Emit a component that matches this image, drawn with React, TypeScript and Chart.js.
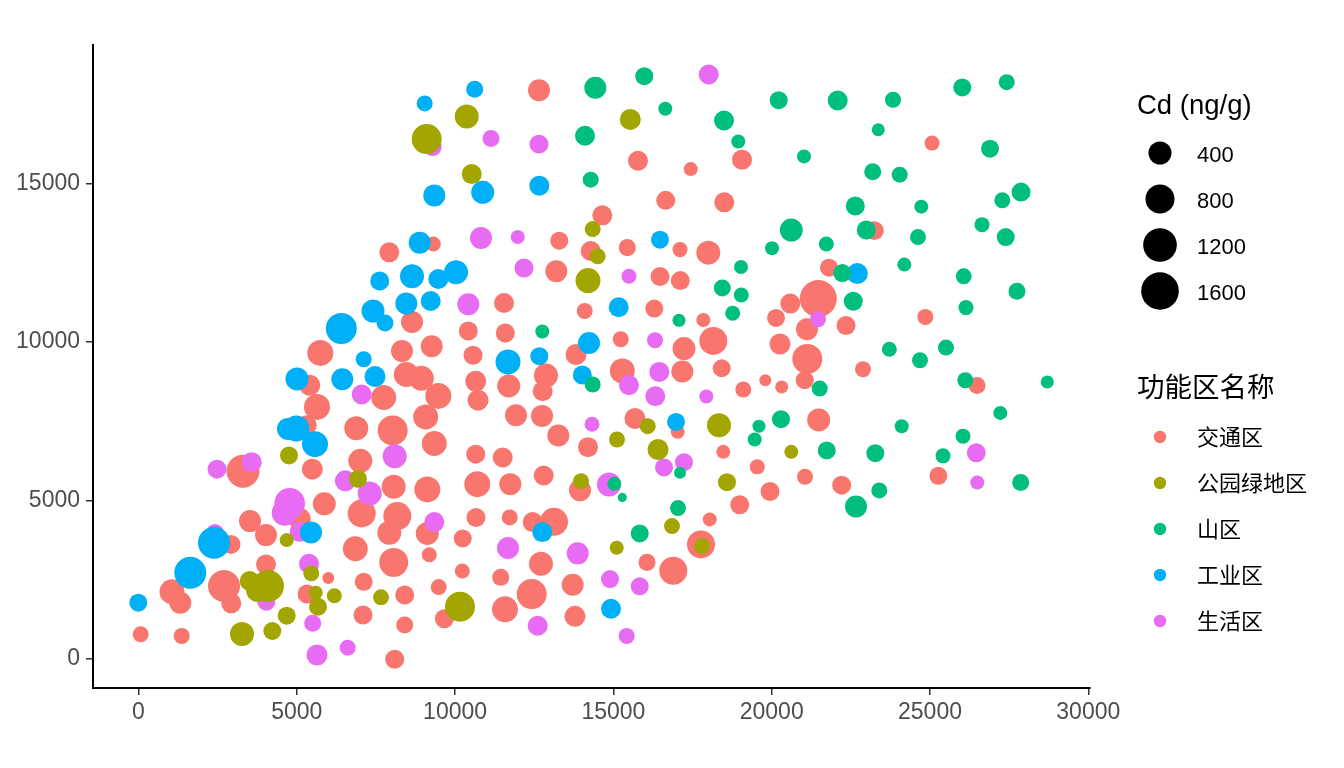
import React, { useEffect, useRef } from "react";
import { Chart, registerables } from "chart.js";

Chart.register(...registerables);

// ---- data: [x, y, Cd (ng/g)] ----
const groupNames = ["交通区", "公园绿地区", "山区", "工业区", "生活区"];
const groupColors = ["#F8766D", "#A3A500", "#00BF7D", "#00B0F6", "#E76BF3"];
const sizeBreaks = [400, 800, 1200, 1600];
const xTicks = [0, 5000, 10000, 15000, 20000, 25000, 30000];
const yTicks = [0, 5000, 10000, 15000];
const sizeTitle = "Cd (ng/g)";
const colorTitle = "功能区名称";

const traffic: [number, number, number][] = [
  [12650, 17944, 347], [7922, 12829, 252], [9312, 13090, 82], [19062, 15751, 252], [15777, 15719, 252],
  [17442, 15454, 59], [16652, 14468, 210], [18503, 14405, 252], [14650, 13995, 252], [13291, 13197, 173],
  [14283, 12870, 252], [15439, 12977, 139], [17104, 12914, 82], [17998, 12819, 457], [25064, 16274, 82],
  [23241, 13513, 210], [21810, 12346, 173], [21472, 11369, 1535], [20588, 11212, 252], [24852, 10789, 108],
  [20136, 10758, 173], [21115, 10402, 347], [22347, 10518, 210], [20262, 9938, 298], [21125, 9465, 875],
  [22884, 9141, 108], [21043, 8794, 173], [19798, 8794, 24], [20316, 8583, 40], [26485, 8627, 139],
  [21485, 7543, 400], [19545, 6061, 82], [21052, 5746, 108], [19947, 5286, 210], [22211, 5484, 210],
  [25263, 5778, 173], [8639, 10632, 347], [5742, 9655, 581], [8323, 9718, 347], [9261, 9866, 347],
  [5408, 8636, 298], [8459, 8974, 517], [8933, 8857, 517], [7745, 8249, 517], [5638, 7952, 581],
  [9470, 8299, 581], [9071, 7637, 517], [5313, 7376, 252], [6879, 7281, 457], [8029, 7209, 875],
  [9343, 6799, 517], [7006, 6250, 457], [5490, 5989, 298], [3301, 5926, 1136], [8061, 5431, 457],
  [9122, 5349, 581], [5869, 4895, 400], [5092, 4413, 347], [7050, 4592, 721], [8175, 4507, 721],
  [7922, 3981, 457], [9122, 3962, 400], [3522, 4350, 347], [4027, 3908, 347], [2922, 3615, 210],
  [6848, 3477, 517], [9185, 3288, 82], [8061, 3048, 796], [4027, 2985, 252], [2701, 2301, 1045],
  [1058, 2121, 517], [1320, 1775, 347], [2931, 1756, 252], [5995, 2553, 24], [7113, 2436, 173],
  [5322, 2049, 210], [8408, 2017, 210], [9482, 2269, 108], [69, 779, 108], [1365, 725, 108],
  [7091, 1387, 210], [8408, 1072, 139], [8092, -9, 210], [13197, 12230, 347], [16472, 12063, 210],
  [17113, 11937, 210], [11545, 11231, 252], [14094, 10978, 108], [16292, 11054, 173], [17840, 10695, 59],
  [18156, 10033, 721], [17230, 9793, 400], [15231, 10086, 108], [13819, 9604, 298], [11586, 10285, 210],
  [10417, 10348, 210], [10566, 9582, 210], [12871, 8942, 457], [11693, 8614, 400], [10651, 8763, 298],
  [10724, 8164, 298], [12767, 8447, 252], [15281, 9087, 517], [17177, 9068, 347], [18421, 9172, 173],
  [19103, 8501, 108], [11924, 7691, 347], [12745, 7669, 347], [15682, 7587, 298], [17031, 7165, 59],
  [10651, 6462, 210], [11504, 6358, 252], [13260, 7051, 347], [14198, 6682, 252], [18471, 6534, 59],
  [12799, 5790, 252], [10701, 5516, 581], [11744, 5516, 347], [13945, 5327, 347], [18990, 4864, 210],
  [18042, 4403, 59], [17767, 3615, 721], [16892, 2783, 721], [16062, 3048, 139], [10240, 3804, 173],
  [10660, 4466, 210], [11725, 4466, 108], [12451, 4318, 252], [13124, 4328, 721], [12713, 3004, 457],
  [10228, 2774, 82], [11441, 2575, 139], [12420, 2049, 875], [13715, 2342, 347], [10155, 1756, 252],
  [9659, 1270, 210], [11576, 1567, 581], [13787, 1346, 298],
];

const park: [number, number, number][] = [
  [9103, 16400, 875], [10367, 17115, 457], [15534, 17021, 298], [10525, 15297, 252], [14346, 13563, 108],
  [14504, 12703, 108], [14198, 11937, 517], [18336, 7376, 457], [16084, 7344, 108], [15114, 6925, 108],
  [16409, 6610, 298], [20619, 6534, 59], [13977, 5611, 108], [18588, 5579, 173], [16851, 4192, 108],
  [15105, 3508, 59], [17799, 3562, 108], [10155, 1648, 875], [4754, 6421, 173], [6933, 5683, 173],
  [4681, 3751, 59], [5458, 2701, 108], [3512, 2459, 252], [4090, 2301, 1045], [3775, 2175, 457],
  [5597, 2090, 59], [5670, 1648, 173], [6185, 1995, 82], [7660, 1945, 108], [3269, 788, 457],
  [4226, 883, 173], [4681, 1365, 173],
];

const mountain: [number, number, number][] = [
  [14429, 18020, 347], [15976, 18386, 173], [16640, 17358, 59], [18494, 16989, 252], [14103, 16507, 252],
  [18945, 16327, 59], [14283, 15120, 108], [20221, 17629, 173], [22085, 17620, 252], [23832, 17642, 108],
  [26021, 18029, 173], [27423, 18196, 108], [23367, 16696, 40], [26896, 16097, 173], [21020, 15855, 59],
  [23191, 15372, 139], [24043, 15278, 108], [27875, 14729, 210], [27284, 14468, 108], [22641, 14288, 210],
  [24725, 14269, 59], [20619, 13532, 400], [22988, 13532, 210], [26643, 13702, 82], [27392, 13311, 173],
  [24621, 13311, 108], [21725, 13090, 82], [20010, 12955, 59], [22230, 12176, 173], [24189, 12441, 59],
  [26065, 12072, 108], [27748, 11599, 139], [22578, 11284, 210], [26137, 11086, 82], [23715, 9771, 82],
  [24684, 9424, 108], [25506, 9825, 108], [21516, 8532, 108], [26115, 8794, 108], [28705, 8741, 40],
  [27221, 7763, 59], [20294, 7565, 173], [19599, 7344, 40], [19463, 6925, 59], [24107, 7344, 59],
  [26043, 7029, 82], [21738, 6578, 173], [23273, 6493, 173], [25411, 6408, 82], [23399, 5317, 108],
  [22663, 4813, 347], [27865, 5570, 139], [19031, 12365, 59], [18440, 11703, 139], [19040, 11483, 82],
  [18768, 10906, 82], [17072, 10685, 40], [12754, 10329, 59], [14346, 8659, 108], [17104, 5872, 24],
  [15029, 5525, 59], [15281, 5097, 1], [17041, 4760, 108], [15831, 3962, 173],
];

const industrial: [number, number, number][] = [
  [9040, 17525, 108], [10619, 17976, 139], [9343, 14625, 347], [10872, 14720, 400], [12660, 14931, 252],
  [8882, 13134, 347], [16472, 13229, 173], [22704, 12157, 298], [8639, 12072, 457], [7619, 11924, 210],
  [10029, 12198, 457], [9470, 11987, 252], [8459, 11212, 347], [9229, 11294, 252], [7407, 10978, 400],
  [7786, 10600, 139], [6406, 10424, 957], [7113, 9456, 108], [5006, 8835, 400], [6437, 8826, 347],
  [7470, 8911, 298], [4722, 7259, 347], [4984, 7272, 581], [5575, 6777, 581], [5449, 3994, 347],
  [2385, 3666, 1045], [1636, 2720, 1045], [-6, 1775, 173], [11671, 9371, 517], [12660, 9551, 173],
  [15168, 11095, 252], [14230, 9970, 347], [14018, 8961, 210], [16978, 7480, 173], [12754, 4003, 252],
  [14924, 1585, 252],
];

const living: [number, number, number][] = [
  [18010, 18439, 252], [11134, 16422, 139], [12650, 16242, 210], [9293, 16148, 173], [10818, 13279, 347],
  [11977, 13311, 59], [12176, 12334, 210], [15492, 12072, 82], [10417, 11190, 347], [16314, 10055, 108],
  [21463, 10717, 108], [15492, 8636, 252], [16450, 9056, 252], [16324, 8290, 252], [17935, 8280, 59],
  [14324, 7407, 82], [7050, 8343, 252], [8092, 6399, 457], [2480, 5989, 210], [3576, 6209, 252],
  [6532, 5620, 298], [7303, 5223, 457], [4776, 4908, 925], [4618, 4611, 581], [5092, 4012, 252],
  [2416, 3972, 173], [5385, 3004, 252], [4037, 1806, 173], [5502, 1125, 139], [6608, 356, 108],
  [5638, 126, 298], [9343, 4318, 252], [11671, 3499, 347], [13873, 3332, 347], [12609, 1050, 252],
  [14861, 5506, 457], [16599, 6042, 173], [17230, 6209, 173], [14893, 2522, 173], [15831, 2292, 173],
  [15420, 725, 108], [26463, 6503, 210], [26494, 5570, 59],
];

const groupData = [traffic, park, mountain, industrial, living];
// drawing order, top-most first
const drawOrder = [1, 2, 3, 4, 0];

function radius(cd: number): number {
  return 4.2 + 0.365 * Math.sqrt(Math.max(cd, 0));
}

const LATIN = '"Liberation Sans", Arial, sans-serif';
const CJK = '"Noto Sans CJK SC", "Liberation Sans", sans-serif';

const legendPlugin = {
  id: "customLegend",
  afterDraw(chart: any) {
    const ctx = chart.ctx as CanvasRenderingContext2D;
    const area = chart.chartArea;
    const lx = area.right + 47;
    ctx.save();
    ctx.fillStyle = "#000";
    ctx.textAlign = "left";
    ctx.textBaseline = "alphabetic";
    ctx.font = `27.5px ${LATIN}`;
    ctx.fillText(sizeTitle, lx, 114);
    const keyX = lx + 23;
    const labelX = lx + 60;
    sizeBreaks.forEach((v, i) => {
      const cy = 153 + i * 46;
      ctx.beginPath();
      ctx.arc(keyX, cy, radius(v), 0, Math.PI * 2);
      ctx.fill();
      ctx.font = `22px ${LATIN}`;
      ctx.textBaseline = "alphabetic";
      ctx.fillText(String(v), labelX, cy + 8.5);
    });
    ctx.font = `27.5px ${CJK}`;
    ctx.textBaseline = "middle";
    ctx.fillText(colorTitle, lx, 387);
    groupNames.forEach((name, i) => {
      const cy = 437 + i * 46;
      ctx.fillStyle = groupColors[i];
      ctx.beginPath();
      ctx.arc(keyX, cy, 6.2, 0, Math.PI * 2);
      ctx.fill();
      ctx.fillStyle = "#000";
      ctx.font = `22px ${CJK}`;
      ctx.textBaseline = "middle";
      ctx.fillText(name, labelX, cy);
    });
    ctx.restore();
  },
};

export default function App() {
  const canvasRef = useRef<HTMLCanvasElement | null>(null);

  useEffect(() => {
    if (!canvasRef.current) return;
    const datasets = drawOrder.map((g, i) => ({
      label: groupNames[g],
      data: groupData[g].map(([x, y, cd]) => ({ x, y, r: radius(cd) })),
      backgroundColor: groupColors[g],
      borderWidth: 0,
      hoverBorderWidth: 0,
      hoverRadius: 0,
      order: i,
      clip: false as any,
    }));

    const chart = new Chart(canvasRef.current, {
      type: "bubble",
      data: { datasets },
      options: {
        animation: false,
        responsive: false,
        events: [],
        layout: { padding: { top: 45, right: 254, bottom: 0, left: 0 } },
        plugins: { legend: { display: false }, tooltip: { enabled: false } },
        scales: {
          x: {
            type: "linear",
            min: -1437,
            max: 30054,
            afterBuildTicks: (scale: any) => {
              scale.ticks = xTicks.map((v) => ({ value: v }));
            },
            afterFit: (scale: any) => {
              scale.height = 80;
            },
            grid: {
              display: true,
              drawOnChartArea: false,
              drawTicks: true,
              tickLength: 7,
              color: "#333333",
              lineWidth: 1.5,
            },
            border: { display: true, color: "#000000", width: 2 },
            ticks: {
              color: "#4D4D4D",
              font: { family: LATIN, size: 23 },
              padding: 4,
              maxRotation: 0,
              autoSkip: false,
              callback: (v: any) => String(v),
            },
          },
          y: {
            type: "linear",
            min: -915,
            max: 19369,
            afterBuildTicks: (scale: any) => {
              scale.ticks = yTicks.map((v) => ({ value: v }));
            },
            afterFit: (scale: any) => {
              scale.width = 93;
            },
            grid: {
              display: true,
              drawOnChartArea: false,
              drawTicks: true,
              tickLength: 7,
              color: "#333333",
              lineWidth: 1.5,
            },
            border: { display: true, color: "#000000", width: 2 },
            ticks: {
              color: "#4D4D4D",
              font: { family: LATIN, size: 23 },
              padding: 6,
              autoSkip: false,
              callback: (v: any) => String(v),
            },
          },
        },
      },
      plugins: [legendPlugin],
    });
    return () => chart.destroy();
  }, []);

  return (
    <div style={{ position: "fixed", left: 0, top: 0, width: 1344, height: 768, background: "#fff" }}>
      <canvas ref={canvasRef} width={1344} height={768} style={{ width: 1344, height: 768, display: "block" }} />
    </div>
  );
}
